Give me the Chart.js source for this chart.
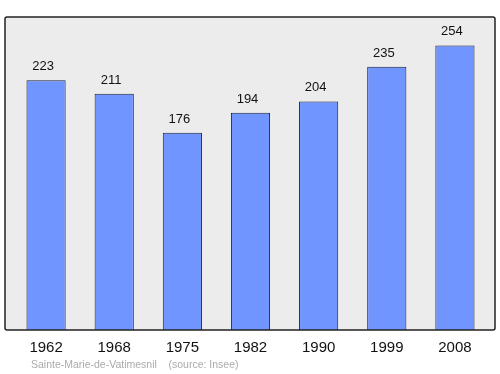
<!DOCTYPE html>
<html>
<head>
<meta charset="utf-8">
<script src="https://cdn.jsdelivr.net/npm/chart.js@4"></script>
<style>
  html, body { margin: 0; padding: 0; background: #fff; }
  #wrap { width: 500px; height: 374px; position: relative; }
</style>
</head>
<body>
<div id="wrap"><canvas id="popChart"></canvas></div>
<script>
const years = ["1962", "1968", "1975", "1982", "1990", "1999", "2008"];
const population = [223, 211, 176, 194, 204, 235, 254];
const sourceText = "Sainte-Marie-de-Vatimesnil    (source: Insee)";

// grey panel, value labels, year labels and source line
const decorations = {
    id: "decorations",
    beforeDatasetsDraw(chart) {
        const ctx = chart.ctx;
        const a = chart.chartArea;
        ctx.save();
        ctx.beginPath();
        ctx.roundRect(a.left - 7, a.top, a.right - a.left + 13, a.bottom - a.top, 2);
        ctx.fillStyle = "#ececec";
        ctx.fill();
        ctx.restore();
    },
    afterDatasetsDraw(chart) {
        const ctx = chart.ctx;
        const a = chart.chartArea;
        const xs = chart.scales.x;
        const ys = chart.scales.y;
        ctx.save();
        ctx.beginPath();
        ctx.roundRect(a.left - 7, a.top, a.right - a.left + 13, a.bottom - a.top, 2);
        ctx.lineWidth = 1.5;
        ctx.strokeStyle = "#222";
        ctx.stroke();

        ctx.fillStyle = "#111";
        ctx.textAlign = "center";
        ctx.font = "13px 'Liberation Sans', Arial, sans-serif";
        ctx.textBaseline = "alphabetic";
        population.forEach((v, i) => {
            ctx.fillText(String(v), xs.getPixelForValue(i) - 3, ys.getPixelForValue(v) - 10);
        });

        ctx.font = "15px 'Liberation Sans', Arial, sans-serif";
        ctx.textBaseline = "middle";
        years.forEach((y, i) => {
            ctx.fillText(y, xs.getPixelForValue(i), a.bottom + 18);
        });

        ctx.font = "10.5px 'Liberation Sans', Arial, sans-serif";
        ctx.fillStyle = "#aaaaaa";
        ctx.textAlign = "left";
        ctx.fillText(sourceText, 31, a.bottom + 35);
        ctx.restore();
    }
};

new Chart(document.getElementById("popChart"), {
    type: "bar",
    data: {
        labels: years,
        datasets: [{
            data: population,
            backgroundColor: "#7095ff",
            borderColor: "#1a1f3a",
            borderWidth: 1,
            categoryPercentage: 1,
            barPercentage: 0.575
        }]
    },
    options: {
        responsive: true,
        maintainAspectRatio: false,
        animation: false,
        layout: { padding: { left: 12, right: 11, top: 17, bottom: 44 } },
        plugins: { legend: { display: false }, tooltip: { enabled: false } },
        scales: {
            x: { display: false },
            y: { display: false, min: 0, max: 279.4 }
        }
    },
    plugins: [decorations]
});
</script>
</body>
</html>
